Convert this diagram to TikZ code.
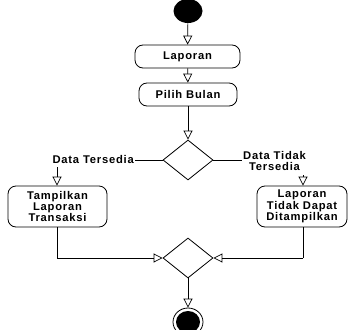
\documentclass[tikz,border=0pt]{standalone}
\usepackage{fontspec}
\setmainfont{Liberation Sans}[LetterSpace=7]
\usetikzlibrary{arrows.meta,shapes.geometric}
\begin{document}
\begin{tikzpicture}[x=1pt,y=-1pt,
  act/.style={draw,rounded corners=8pt,line width=0.8pt,align=center,font=\bfseries\fontsize{11.2}{11.3}\selectfont,inner sep=0pt},
  dec/.style={draw,diamond,line width=0.8pt,minimum width=50pt,minimum height=40pt,inner sep=0pt},
  lbl/.style={font=\bfseries\fontsize{11.2}{11.8}\selectfont,inner sep=1pt,align=center},
  flow/.style={line width=0.7pt,-{Triangle[open,length=9pt,width=9pt]}},
  seg/.style={line width=0.7pt}]
\useasboundingbox (0,0) rectangle (350,329);
\node[ellipse,fill=black,minimum width=29pt,minimum height=24pt,inner sep=0pt] (start) at (188,11) {};
\node[act,minimum width=105pt,minimum height=23pt] (lap) at (187.5,56.5) {Laporan};
\node[act,minimum width=98pt,minimum height=23pt] (pilih) at (188,94.5) {Pilih Bulan};
\node[dec] (d1) at (188,160) {};
\node[lbl,anchor=east] (lt) at (135,159) {Data Tersedia};
\node[lbl,anchor=west] (lf) at (242,161) {Data Tidak\\Tersedia};
\node[act,minimum width=99pt,minimum height=41pt] (tamp) at (57.5,206.5) {Tampilkan\\Laporan\\Transaksi};
\node[act,minimum width=90pt,minimum height=41pt] (tidak) at (302,206.5) {Laporan\\Tidak Dapat\\Ditampilkan};
\node[dec] (d2) at (188,258) {};
\node[ellipse,draw,line width=0.8pt,minimum width=30pt,minimum height=28pt,inner sep=0pt] (end) at (188,322) {};
\node[ellipse,fill=black,minimum width=24pt,minimum height=22pt,inner sep=0pt] (endin) at (end.center) {};
\coordinate (ltb) at (57,167);
\coordinate (lfb) at (303,175);
\coordinate (c1) at (57,258);
\coordinate (c2) at (303,258);
\draw[flow] (start) -- (lap);
\draw[flow] (lap) -- (pilih);
\draw[flow] (pilih) -- (d1);
\draw[seg] (d1.west) -- (lt.east |- d1.west);
\draw[seg] (d1.east) -- (lf.west |- d1.east);
\draw[flow] (ltb) -- (tamp.north -| ltb);
\draw[flow] (lfb) -- (tidak.north -| lfb);
\draw[seg] (tamp.south -| c1) -- (c1);
\draw[flow] (c1) -- (d2.west);
\draw[seg] (tidak.south -| c2) -- (c2);
\draw[flow] (c2) -- (d2.east);
\draw[flow] (d2.south) -- (end);
\end{tikzpicture}
\end{document}
